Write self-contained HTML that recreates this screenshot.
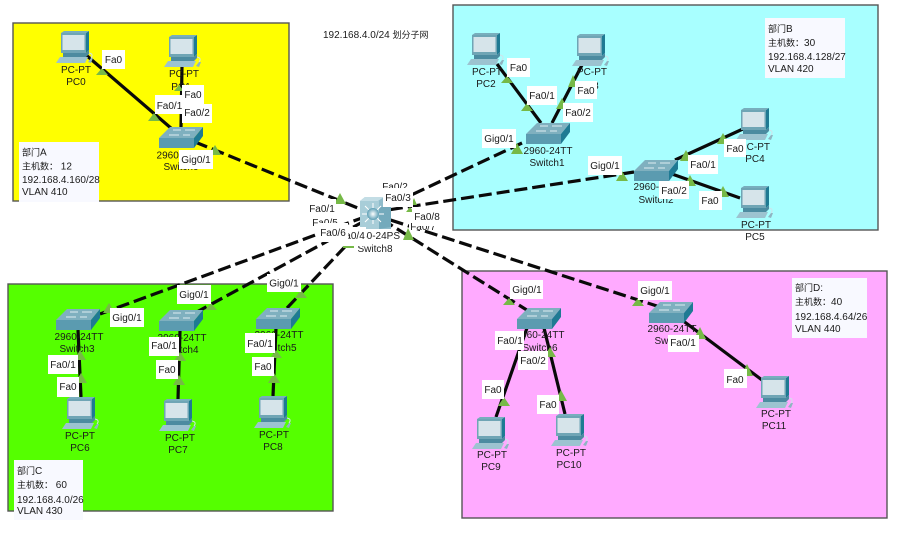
<!DOCTYPE html>
<html>
<head>
<meta charset="utf-8">
<style>
html,body{margin:0;padding:0;background:#fff}
svg{display:block}
text{font-family:"Liberation Sans","Noto Sans CJK SC",sans-serif;font-size:10px;fill:#1a1a1a}
.c{font-size:9px}
.m{text-anchor:middle}
.s{stroke:#0a0a0a;stroke-width:3.2;fill:none}
.d{stroke:#0a0a0a;stroke-width:3.2;fill:none;stroke-dasharray:13 5}
.z{stroke:#555;stroke-width:1.4}
.t{fill:#76b947}
.b{fill:#fff}
.i{fill:#f8f9ff}
</style>
</head>
<body>
<svg xmlns="http://www.w3.org/2000/svg" width="902" height="543" viewBox="0 0 902 543">
<defs>
<radialGradient id="g"><stop offset="0" stop-color="#fff"/><stop offset="1" stop-color="#5d9fb5"/></radialGradient>
<symbol id="pc" width="40" height="33" viewBox="0 0 40 33">
<polygon points="30,2 33,0 33,19 30,22" fill="#1f7a93"/>
<polygon points="5,2 8,0 33,0 30,2" fill="#78aebd"/>
<rect x="5" y="2" width="25" height="20" fill="#6fa5b5"/>
<rect x="6.500" y="4" width="22" height="15" fill="#d6e4ea"/>
<polygon points="7,22 30,22 33,19 33,23 30,26 7,26" fill="#4c8ba0"/>
<polygon points="4,26 32,26 29,32 0,32" fill="#9cc3d0"/>
<polygon points="32,31 35,27 37,27 35,32" fill="#8fb5c2"/>
<path d="M35,27 Q38,23 33,22" stroke="#cfe3ea" fill="none"/>
</symbol>
<symbol id="sw" width="44" height="21" viewBox="0 0 44 21">
<polygon points="0,11 11,0 44,0 35,11" fill="#7fb0bf"/>
<polygon points="0,11 35,11 35,21 0,21" fill="#5b9bb0"/>
<polygon points="35,11 44,0 44,9 35,21" fill="#1f7a93"/>
<path d="M10,8 H20 M24,8 H31 M14,3 H22 M26,3 H36" stroke="#dcebf0" stroke-width="1"/>
</symbol>
</defs>

<!-- zones -->
<rect class="z" x="13" y="23" width="276" height="178" fill="#ffff00"/>
<rect class="z" x="453" y="5" width="425" height="225" fill="#a8ffff"/>
<rect class="z" x="8" y="284" width="325" height="227" fill="#55ff00"/>
<rect class="z" x="462" y="271" width="425" height="247" fill="#ffaaff"/>

<!-- info boxes -->
<rect class="i" x="19" y="142" width="80" height="60"/>
<rect class="i" x="765" y="18" width="80" height="60"/>
<rect class="i" x="14" y="460" width="69" height="60"/>
<rect class="i" x="792" y="278" width="75" height="60"/>
<text x="22" y="155.500"><tspan class="c">部门</tspan>A</text><text x="22" y="169.500"><tspan class="c">主机数：</tspan> 12</text><text x="22" y="183">192.168.4.160/28</text><text x="22" y="195">VLAN 410</text>
<text x="768" y="32"><tspan class="c">部门</tspan>B</text><text x="768" y="46"><tspan class="c">主机数：</tspan>30</text><text x="768" y="60">192.168.4.128/27</text><text x="768" y="72">VLAN 420</text>
<text x="17" y="474"><tspan class="c">部门</tspan>C</text><text x="17" y="488"><tspan class="c">主机数：</tspan> 60</text><text x="17" y="503">192.168.4.0/26</text><text x="17" y="514">VLAN 430</text>
<text x="795" y="291"><tspan class="c">部门</tspan>D:</text><text x="795" y="305"><tspan class="c">主机数：</tspan>40</text><text x="795" y="320">192.168.4.64/26</text><text x="795" y="332">VLAN 440</text>
<text x="323" y="38">192.168.4.0/24 <tspan class="c">划分子网</tspan></text>

<!-- links -->
<path class="s" d="M86,55 L172,129 M182,66 L181,127 M497,64 L541,123 M582,65 L552,123 M675,160 L745,128 M672,174 L740,198 M78,330 L81,397 M180,331 L178,399 M276,328 L273,396 M527,328 L496,417 M544,328 L565,414 M682,320 L762,380"/>
<path class="d" d="M195,142 L370,213 M522,143 L375,212 M634,172 L375,212 M100,314 L370,215 M195,313 L370,218 M287,308 L375,215 M530,312 L375,215 M660,307 L375,215"/>

<!-- PCs -->
<use href="#pc" x="56" y="31"/><use href="#pc" x="164" y="35"/><use href="#pc" x="467" y="33"/><use href="#pc" x="572" y="34"/>
<use href="#pc" x="736" y="108"/><use href="#pc" x="736" y="186"/><use href="#pc" x="62" y="397"/><use href="#pc" x="159" y="399"/>
<use href="#pc" x="254" y="396"/><use href="#pc" x="472" y="417"/><use href="#pc" x="551" y="414"/><use href="#pc" x="756" y="376"/>

<!-- switches -->
<use href="#sw" x="159" y="127"/><use href="#sw" x="526" y="123"/><use href="#sw" x="634" y="160"/><use href="#sw" x="56" y="309"/>
<use href="#sw" x="159" y="310"/><use href="#sw" x="256" y="308"/><use href="#sw" x="517" y="308"/><use href="#sw" x="649" y="302"/>

<!-- multilayer switch -->
<polygon points="360,201 365,197 384,197 391,206 391,229 368,229 360,229" fill="#8fbccb"/>
<polygon points="360,201 365,197 384,197 378,201" fill="#c3dde5"/>
<rect x="360" y="201" width="19" height="28" fill="#a8cdd8"/>
<polygon points="379,207 391,207 391,227 379,229" fill="#74aabc"/>
<path d="M373,203 V224 M362,214 H384 M365,206 L381,222 M381,206 L365,222" stroke="#fff" stroke-width="1"/>
<circle cx="373" cy="214" r="6" fill="url(#g)"/>

<!-- device labels -->
<text class="m" x="76" y="73">PC-PT</text><text class="m" x="76" y="85">PC0</text>
<text class="m" x="184" y="77">PC-PT</text><text class="m" x="181" y="90">PC1</text>
<text class="m" x="181" y="158.500">2960-24TT</text><text class="m" x="181" y="170">Switch0</text>
<text class="m" x="487" y="75">PC-PT</text><text class="m" x="486" y="87">PC2</text>
<text class="m" x="592" y="75">PC-PT</text><text class="m" x="589" y="89">PC3</text>
<text class="m" x="548" y="154">2960-24TT</text><text class="m" x="547" y="166">Switch1</text>
<text class="m" x="658" y="190">2960-24TT</text><text class="m" x="656" y="203">Switch2</text>
<text class="m" x="755" y="150">PC-PT</text><text class="m" x="755" y="162">PC4</text>
<text class="m" x="756" y="228">PC-PT</text><text class="m" x="755" y="240">PC5</text>
<text class="m" x="79" y="340">2960-24TT</text><text class="m" x="77" y="352">Switch3</text>
<text class="m" x="182" y="341">2960-24TT</text><text class="m" x="181" y="353">Switch4</text>
<text class="m" x="279" y="338">2960-24TT</text><text class="m" x="279" y="351">Switch5</text>
<text class="m" x="80" y="439">PC-PT</text><text class="m" x="80" y="451">PC6</text>
<text class="m" x="180" y="441">PC-PT</text><text class="m" x="178" y="453">PC7</text>
<text class="m" x="274" y="438">PC-PT</text><text class="m" x="273" y="450">PC8</text>
<text class="m" x="540" y="338">2960-24TT</text><text class="m" x="540" y="351">Switch6</text>
<text class="m" x="672" y="332">2960-24TT</text><text class="m" x="672" y="344">Switch7</text>
<text class="m" x="492" y="458">PC-PT</text><text class="m" x="491" y="470">PC9</text>
<text class="m" x="571" y="456">PC-PT</text><text class="m" x="569" y="468">PC10</text>
<text class="m" x="776" y="417">PC-PT</text><text class="m" x="774" y="429">PC11</text>
<text class="m" x="375" y="239">3560-24PS</text><text class="m" x="375" y="252">Switch8</text>

<!-- link lights -->
<g class="t">
<polygon points="102,68 96,75 108,75"/><polygon points="154,113 148,121 160,121"/><polygon points="179,85 174,91 184,91"/><polygon points="215,145 209,155 221,155"/>
<polygon points="507,76 501,83 513,83"/><polygon points="527,103 521,111 533,111"/><polygon points="573,75 568,87 578,87"/><polygon points="562,98 556,109 568,109"/><polygon points="517,143 511,154 523,154"/><polygon points="622,171 616,181 628,181"/><polygon points="686,150 680,161 692,161"/><polygon points="723,133 717,144 729,144"/><polygon points="690,175 684,186 696,186"/><polygon points="723,186 717,197 729,197"/>
<polygon points="109,303 103,313 115,313"/><polygon points="211,303 205,310 217,310"/><polygon points="301,290 295,298 307,298"/><polygon points="80,350 74,360 86,360"/><polygon points="81,373 75,383 87,383"/><polygon points="180,352 174,361 186,361"/><polygon points="179,375 173,385 185,385"/><polygon points="276,350 270,358 282,358"/><polygon points="274,373 268,383 280,383"/>
<polygon points="509,298 503,305 515,305"/><polygon points="638,298 632,306 644,306"/><polygon points="700,327 694,339 706,339"/><polygon points="747,364 741,376 753,376"/><polygon points="550,347 544,357 556,357"/><polygon points="504,397 498,406 510,406"/><polygon points="561,390 555,401 567,401"/>
<polygon points="340,193 334,204 346,204"/><polygon points="414,198 411,205 417,205"/><polygon points="410,207 406,212 414,212"/><polygon points="408,228 403,240 414,240"/><polygon points="343,246 354,246 354,248 343,248"/>
</g>

<!-- port labels: yellow -->
<rect class="b" x="102" y="50" width="23" height="19"/><text class="m" x="113.500" y="63">Fa0</text>
<rect class="b" x="155" y="95" width="29" height="19"/><text class="m" x="169.500" y="109">Fa0/1</text>
<rect class="b" x="182" y="85" width="22" height="19"/><text class="m" x="193" y="98">Fa0</text>
<rect class="b" x="182" y="104" width="30" height="19"/><text class="m" x="197" y="116">Fa0/2</text>
<rect class="b" x="179" y="150" width="34" height="19"/><text class="m" x="196" y="163">Gig0/1</text>
<!-- cyan -->
<rect class="b" x="507" y="58" width="23" height="19"/><text class="m" x="518.500" y="71">Fa0</text>
<rect class="b" x="527" y="86" width="30" height="19"/><text class="m" x="542" y="99">Fa0/1</text>
<rect class="b" x="575" y="81" width="22" height="18"/><text class="m" x="586" y="94">Fa0</text>
<rect class="b" x="563" y="103" width="30" height="19"/><text class="m" x="578" y="116">Fa0/2</text>
<rect class="b" x="482" y="129" width="34" height="19"/><text class="m" x="499" y="142">Gig0/1</text>
<rect class="b" x="588" y="156" width="34" height="19"/><text class="m" x="605" y="169">Gig0/1</text>
<rect class="b" x="688" y="155" width="30" height="19"/><text class="m" x="703" y="168">Fa0/1</text>
<rect class="b" x="659" y="181" width="30" height="18"/><text class="m" x="674" y="194">Fa0/2</text>
<rect class="b" x="699" y="191" width="23" height="19"/><text class="m" x="710" y="204">Fa0</text>
<rect class="b" x="724" y="139" width="22" height="18"/><text class="m" x="735" y="152">Fa0</text>
<!-- green -->
<rect class="b" x="110" y="308" width="34" height="19"/><text class="m" x="127" y="321">Gig0/1</text>
<rect class="b" x="177" y="285" width="34" height="19"/><text class="m" x="194" y="298">Gig0/1</text>
<rect class="b" x="267" y="274" width="34" height="18"/><text class="m" x="284" y="286.500">Gig0/1</text>
<rect class="b" x="48" y="355" width="30" height="19"/><text class="m" x="63" y="368">Fa0/1</text>
<rect class="b" x="57" y="377" width="22" height="20"/><text class="m" x="68" y="390">Fa0</text>
<rect class="b" x="149" y="337" width="30" height="19"/><text class="m" x="164" y="349">Fa0/1</text>
<rect class="b" x="156" y="360" width="22" height="19"/><text class="m" x="167" y="373">Fa0</text>
<rect class="b" x="245" y="333" width="30" height="20"/><text class="m" x="260" y="347">Fa0/1</text>
<rect class="b" x="252" y="357" width="22" height="19"/><text class="m" x="263" y="370">Fa0</text>
<!-- pink -->
<rect class="b" x="510" y="280" width="33" height="19"/><text class="m" x="527" y="293">Gig0/1</text>
<rect class="b" x="638" y="281" width="34" height="19"/><text class="m" x="655" y="294">Gig0/1</text>
<rect class="b" x="495" y="331" width="29" height="19"/><text class="m" x="510" y="344">Fa0/1</text>
<rect class="b" x="518" y="351" width="30" height="19"/><text class="m" x="533" y="364">Fa0/2</text>
<rect class="b" x="482" y="380" width="22" height="19"/><text class="m" x="493" y="393">Fa0</text>
<rect class="b" x="537" y="395" width="22" height="19"/><text class="m" x="548" y="408">Fa0</text>
<rect class="b" x="668" y="335" width="31" height="17"/><text class="m" x="683" y="346">Fa0/1</text>
<rect class="b" x="724" y="369" width="23" height="19"/><text class="m" x="735" y="383">Fa0</text>
<!-- around core switch -->
<rect class="b" x="308" y="199" width="28" height="14"/><text class="m" x="322" y="212">Fa0/1</text>
<rect class="b" x="310" y="213" width="30" height="19"/><text class="m" x="325" y="226">Fa0/5</text>
<rect class="b" x="342" y="227" width="24" height="19"/><text class="m" x="352" y="239">Fa0/4</text>
<rect class="b" x="318" y="223" width="30" height="19"/><text class="m" x="333" y="236">Fa0/6</text>
<rect class="b" x="380" y="181" width="30" height="9"/><text class="m" x="395" y="190">Fa0/2</text>
<rect class="b" x="383" y="188" width="30" height="19"/><text class="m" x="398" y="201">Fa0/3</text>
<rect class="b" x="409" y="216" width="30" height="14"/><text class="m" x="423" y="230">Fa0/7</text>
<rect class="b" x="412" y="207" width="30" height="19"/><text class="m" x="427" y="220">Fa0/8</text>
</svg>
</body>
</html>
